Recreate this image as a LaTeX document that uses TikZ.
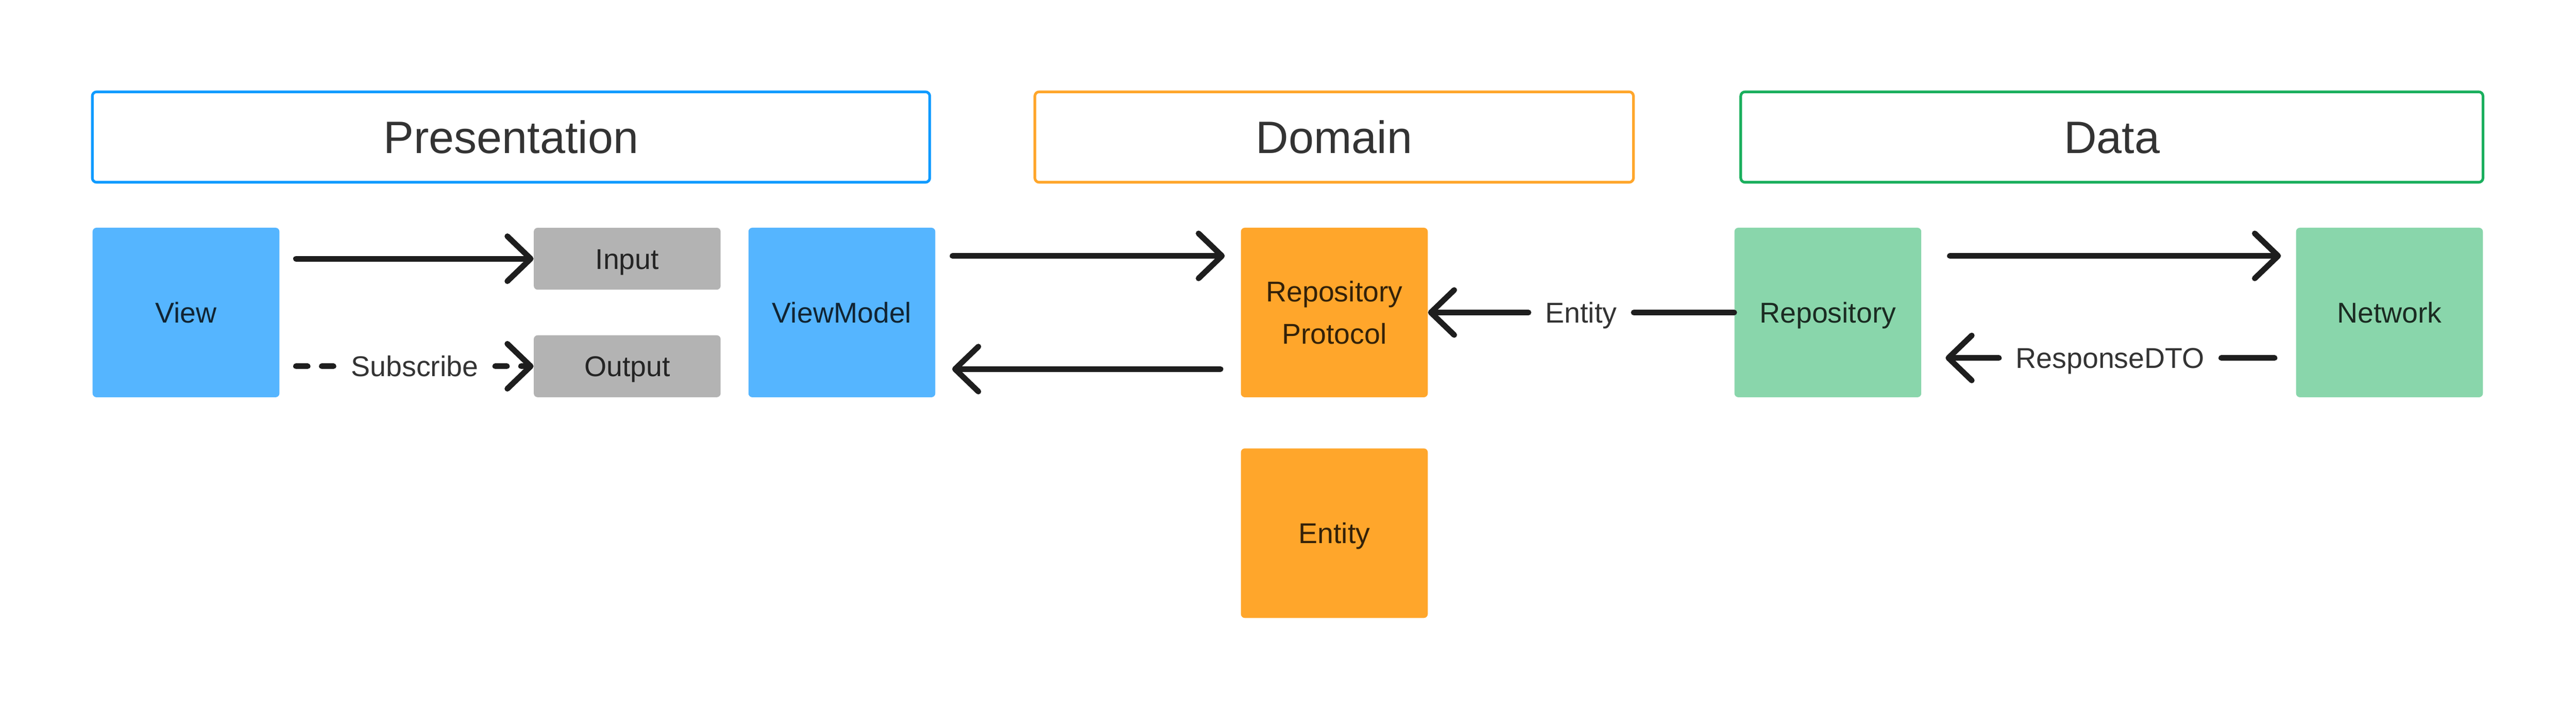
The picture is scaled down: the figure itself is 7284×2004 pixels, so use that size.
\documentclass[tikz,border=0pt]{standalone}
\usepackage{fontspec}
\setmainfont{Liberation Sans}
\usetikzlibrary{arrows.meta,calc}
\definecolor{bluefill}{HTML}{55B5FF}
\definecolor{blueline}{HTML}{0F9BFF}
\definecolor{orangefill}{HTML}{FFA62B}
\definecolor{orangeline}{HTML}{FFA62B}
\definecolor{greenfill}{HTML}{89D6AB}
\definecolor{greenline}{HTML}{1AAF5D}
\definecolor{grayfill}{HTML}{B3B3B3}
\definecolor{ink}{HTML}{1E1E1E}
\definecolor{labelink}{HTML}{333333}
\tikzset{
  header/.style={draw, line width=0.075cm, rounded corners=0.12cm, minimum width=#1,
    minimum height=2.555cm, inner sep=0pt, text height=0.92cm, text depth=0pt,
    font=\fontsize{36.5}{40}\selectfont, text=labelink},
  box/.style={rounded corners=0.11cm, minimum width=5.28cm, minimum height=4.79cm,
    inner sep=0pt, text height=0.58cm, text depth=0pt, align=center,
    font=\fontsize{23}{33.74}\selectfont},
  bluebox/.style={box, fill=bluefill, text=bluefill!20!black},
  graybox/.style={box, fill=grayfill, text=grayfill!20!black, minimum height=1.75cm},
  orangebox/.style={box, fill=orangefill, text=orangefill!20!black},
  greenbox/.style={box, fill=greenfill, text=greenfill!20!black},
  lbl/.style={inner xsep=0.47cm, inner ysep=0pt, text height=0.58cm, text depth=0pt,
    font=\fontsize{23}{28}\selectfont, text=labelink},
  ln/.style={draw=ink, line width=0.16cm, line cap=round, line join=round},
  arr/.style={ln, -{Straight Barb[round, length=0.66cm, width=1.27cm]}},
  dsh/.style={dash pattern=on 0.33cm off 0.40cm}
}
\begin{document}
\begin{tikzpicture}[x=0.01cm, y=-0.01cm]
\fill[white] (0,0) rectangle (7284,2004);
\useasboundingbox (0,0) rectangle (7284,2004);

% headers
\node[header=23.665cm, draw=blueline] (presH) at (1445,387.5) {Presentation};
\node[header=16.915cm, draw=orangeline] (domH) at (3772.5,387.5) {Domain};
\node[header=20.975cm, draw=greenline] (dataH) at (5971.5,387.5) {Data};

% boxes
\node[bluebox] (view) at (526,883.5) {View};
\node[graybox] (input) at (1773.5,731.5) {Input};
\node[graybox] (output) at (1773.5,1035.5) {Output};
\node[bluebox] (vm) at (2380.5,883.5) {ViewModel};
\node[orangebox, text height=1.77cm] (rp) at (3773,883.5) {Repository\\Protocol};
\node[orangebox] (ent) at (3773,1507.5) {Entity};
\node[greenbox] (repo) at (5168.5,883.5) {Repository};
\node[greenbox] (net) at (6756.5,883.5) {Network};

% View -> Input
\draw[arr] ($(view.east |- input.west)+(46,0)$) -- (input.west);

% View -> Output (Subscribe)
\coordinate (s0) at ($(view.east |- output.west)+(46,0)$);
\node[lbl] (sub) at ($(s0)!0.5!(output.west)$) {Subscribe};
\draw[ln, dsh] (s0) -- (sub.west);
\draw[arr, dsh] (sub.east) -- (output.west);

% ViewModel <-> Repository Protocol
\draw[arr] ($(vm.east)+(48,-160)$) -- ($(rp.west)+(-45,-160)$);
\draw[arr] ($(rp.west)+(-57,160)$) -- ($(vm.east)+(47,160)$);

% Repository -> Repository Protocol (Entity)
\node[lbl] (entl) at ($(repo.west)!0.5!(rp.east)$) {Entity};
\draw[ln] (repo.west) -- (entl.east);
\draw[arr] (entl.west) -- (rp.east);

% Repository -> Network
\draw[arr] ($(repo.east)+(80,-160)$) -- ($(net.west)+(-42,-160)$);

% Network -> Repository (ResponseDTO)
\coordinate (r0) at ($(net.west)+(-60,128.5)$);
\coordinate (r1) at ($(repo.east)+(68,128.5)$);
\node[lbl] (resl) at ($(r0)!0.5!(r1)$) {ResponseDTO};
\draw[ln] (r0) -- (resl.east);
\draw[arr] (resl.west) -- (r1);
\end{tikzpicture}
\end{document}
